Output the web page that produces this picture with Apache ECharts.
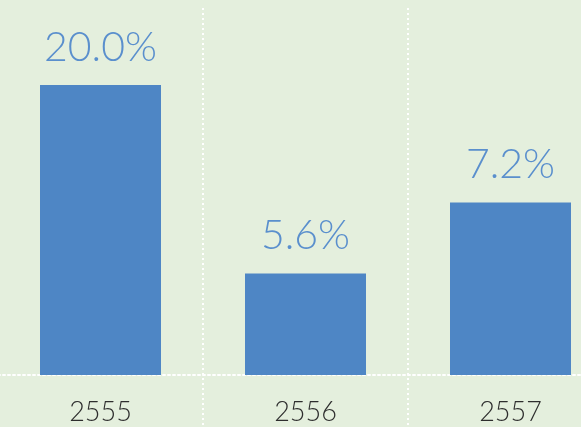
<!DOCTYPE html>
<html>
<head>
<meta charset="utf-8">
<script src="https://cdn.jsdelivr.net/npm/echarts@6/dist/echarts.min.js"></script>
<style>
  html, body { margin: 0; padding: 0; background: #e4efdd; }
  #chart { width: 581px; height: 427px; }
</style>
</head>
<body>
<div id="chart"></div>
<script>
// categories (years, Thai calendar)
const years = ['2555', '2556', '2557'];
// printed labels above bars
const shares = ['20.0%', '5.6%', '7.2%'];
// bar heights as drawn (in units of the 20.0% bar)
const barValues = [20.0, 7.0, 11.9];

const chart = echarts.init(document.getElementById('chart'));

const dotted = { color: '#ffffff', width: 2, type: [2, 3] };

const option = {
    backgroundColor: '#e4efdd',
    animation: false,
    grid: [
        // bars
        { left: -2, right: -32, top: 8, bottom: 52, outerBoundsMode: 'none' },
        // full-height grid only for the dotted column separators
        { left: -2, right: -32, top: 8, bottom: 0, outerBoundsMode: 'none' },
    ],
    xAxis: [
        {
            type: 'category',
            gridIndex: 0,
            data: years,
            axisLine: { lineStyle: dotted },
            axisTick: { show: false },
            axisLabel: {
                margin: 24,
                fontSize: 27,
                fontFamily: 'Lato',
                fontWeight: 300,
                color: '#2e2e2e',
            },
            splitLine: { show: false },
        },
        {
            type: 'category',
            gridIndex: 1,
            data: years,
            axisLine: { show: false },
            axisTick: { show: false },
            axisLabel: { show: false },
            splitLine: { show: true, lineStyle: dotted },
        },
    ],
    yAxis: [
        { type: 'value', gridIndex: 0, min: 0, max: 25.31, show: false },
        { type: 'value', gridIndex: 1, min: 0, max: 1, show: false },
    ],
    series: [
        {
            type: 'bar',
            xAxisIndex: 0,
            yAxisIndex: 0,
            data: barValues,
            barWidth: 121,
            itemStyle: { color: '#4e86c5' },
            label: {
                show: true,
                position: 'top',
                distance: 17,
                fontSize: 41,
                fontFamily: 'Lato',
                fontWeight: 300,
                color: '#5a8fcd',
                formatter: (p) => shares[p.dataIndex],
            },
        },
    ],
};

chart.setOption(option);
</script>
</body>
</html>
